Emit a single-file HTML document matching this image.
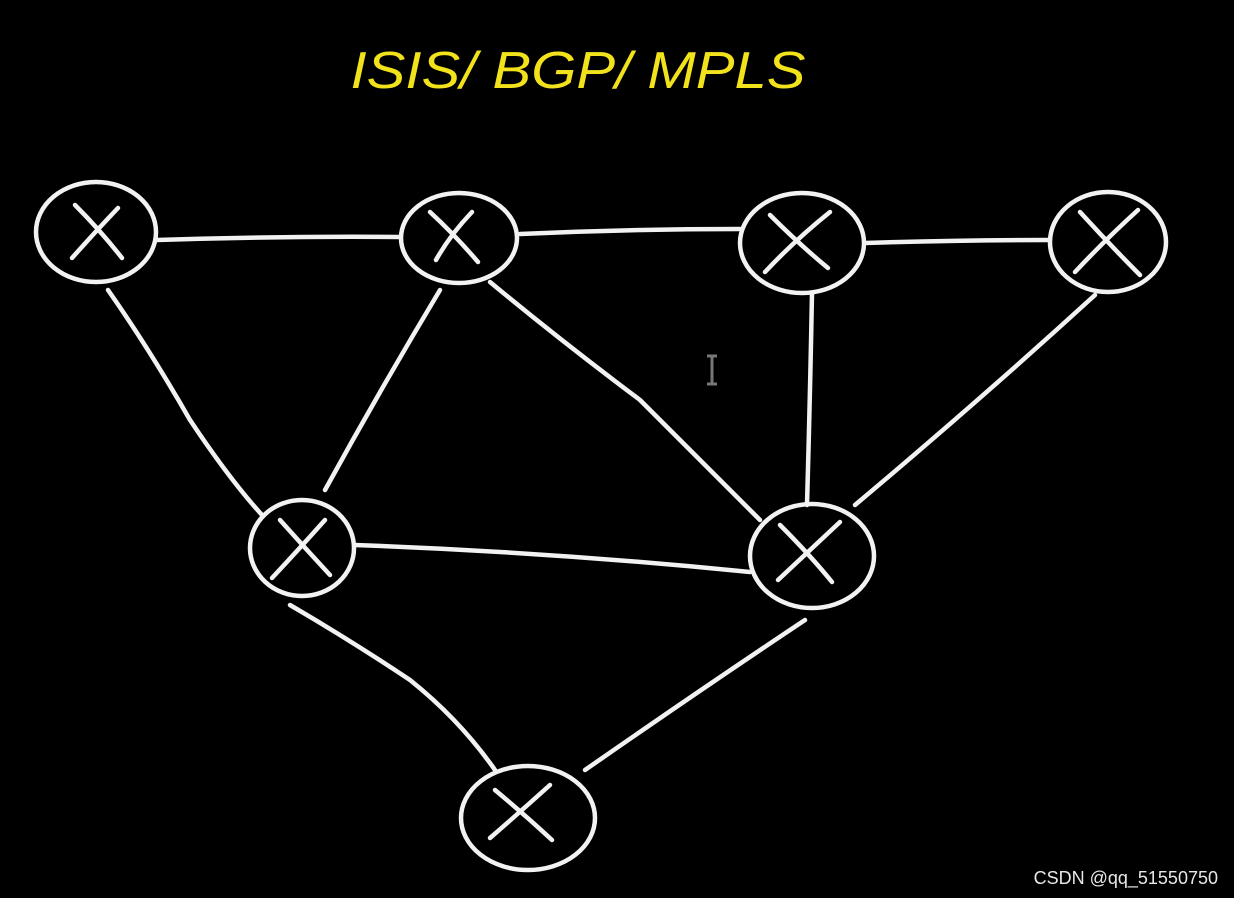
<!DOCTYPE html>
<html><head><meta charset="utf-8"><style>
html,body{margin:0;padding:0;background:#000;}
svg{display:block;}
</style></head><body>
<svg width="1234" height="898" viewBox="0 0 1234 898" xmlns="http://www.w3.org/2000/svg">
<rect width="1234" height="898" fill="#000"/>
<text x="578" y="88" text-anchor="middle" font-family="Liberation Sans, sans-serif" font-size="52" fill="#f2e21c" font-style="italic" textLength="455" lengthAdjust="spacingAndGlyphs">ISIS/ BGP/ MPLS</text>
<g stroke="#f2f2f2" stroke-width="4.5" fill="none" stroke-linecap="round">
<path d="M157 240 Q280 236 400 237"/>
<path d="M520 234 Q630 229 740 229"/>
<path d="M865 243 Q960 240 1048 240"/>
<path d="M108 290 Q150 350 190 420 Q230 480 262 515"/>
<path d="M440 290 Q380 390 325 490"/>
<path d="M490 282 Q560 340 640 400 Q710 470 760 520"/>
<path d="M812 293 Q810 400 807 505"/>
<path d="M1095 295 Q980 400 855 505"/>
<path d="M355 545 Q550 552 750 572"/>
<path d="M290 605 Q350 640 410 680 Q460 720 495 770"/>
<path d="M805 620 Q700 690 585 770"/>
<ellipse cx="96" cy="232" rx="60" ry="50"/>
<ellipse cx="459" cy="238" rx="58" ry="45"/>
<ellipse cx="802" cy="243" rx="62" ry="50"/>
<ellipse cx="1108" cy="242" rx="58" ry="50"/>
<ellipse cx="302" cy="548" rx="52" ry="48"/>
<ellipse cx="812" cy="556" rx="62" ry="52"/>
<ellipse cx="528" cy="818" rx="67" ry="52"/>
<path d="M75 205 Q100 230 122 258 M118 208 Q95 232 72 258"/>
<path d="M430 212 Q455 235 478 262 M472 212 Q450 235 436 260"/>
<path d="M770 215 Q800 245 828 268 M830 212 Q795 240 765 272"/>
<path d="M1080 212 Q1110 245 1140 275 M1138 210 Q1105 240 1075 272"/>
<path d="M280 520 Q305 548 330 575 M325 520 Q300 548 272 578"/>
<path d="M780 525 Q810 555 832 582 M840 522 Q810 550 778 580"/>
<path d="M495 790 Q525 815 552 840 M550 785 Q520 812 490 838"/>
</g>
<path d="M707 356 L717 356 M712 356 L712 384 M707 384 L717 384" stroke="#777" stroke-width="3" fill="none"/>
<text x="1218" y="884" text-anchor="end" font-family="Liberation Sans, sans-serif" font-size="18" fill="#e8e8e8">CSDN @qq_51550750</text>
</svg>
</body></html>
